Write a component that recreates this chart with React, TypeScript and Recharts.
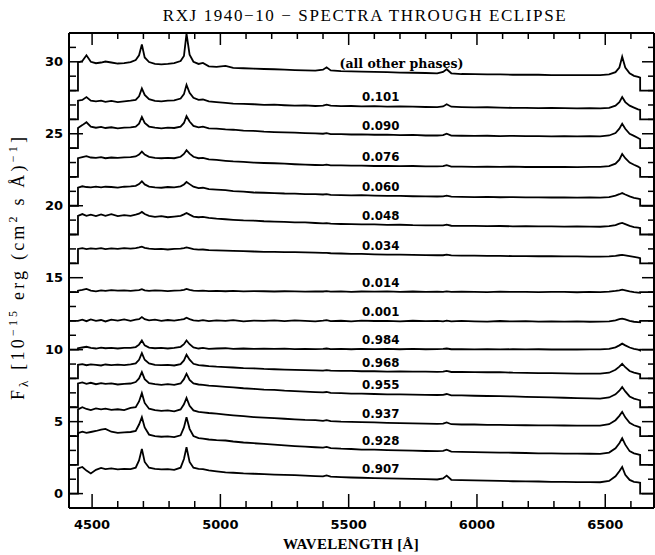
import React from 'react';
import { LineChart, Line, XAxis, YAxis, ReferenceDot } from 'recharts';

// Wavelength grid (Angstrom); the duplicated 4445 / 6636 entries are the ends of the observed range
const wavelengths = [4410, 4445, 4445, 4462, 4478, 4495, 4515, 4535, 4552, 4575, 4600, 4625, 4650, 4670, 4683, 4694, 4705, 4722, 4745, 4770, 4795, 4820, 4845, 4858, 4868, 4880, 4895, 4915, 4932, 4955, 4985, 5020, 5050, 5090, 5130, 5170, 5210, 5250, 5290, 5330, 5370, 5400, 5414, 5430, 5470, 5510, 5550, 5600, 5650, 5700, 5750, 5800, 5845, 5868, 5882, 5900, 5940, 5990, 6040, 6090, 6140, 6190, 6240, 6290, 6340, 6390, 6440, 6480, 6515, 6540, 6555, 6566, 6578, 6595, 6612, 6628, 6636, 6636, 6690];

const phases = ['(all other phases)', '0.101', '0.090', '0.076', '0.060', '0.048', '0.034', '0.014', '0.001', '0.984', '0.968', '0.955', '0.937', '0.928', '0.907'];
const offsets = [28, 26, 24, 22, 20, 18, 16, 14, 12, 10, 8, 6, 4, 2, 0];

const fluxAll = [0, 0, 1.95, 2.05, 2.45, 2.0, 1.9, 1.95, 2.02, 1.95, 1.88, 1.9, 1.98, 2.12, 2.45, 3.2, 2.3, 1.98, 1.85, 1.82, 1.85, 1.9, 2.05, 2.4, 3.95, 2.5, 2.0, 1.85, 1.92, 1.68, 1.65, 1.72, 1.58, 1.55, 1.52, 1.5, 1.48, 1.45, 1.42, 1.4, 1.38, 1.45, 1.62, 1.4, 1.35, 1.33, 1.32, 1.3, 1.28, 1.25, 1.24, 1.22, 1.2, 1.3, 1.48, 1.2, 1.15, 1.14, 1.12, 1.12, 1.1, 1.1, 1.1, 1.08, 1.08, 1.08, 1.08, 1.08, 1.12, 1.28, 1.6, 2.35, 1.6, 1.2, 1.02, 0.95, 0.9, 0, 0];
const flux101 = [0, 0, 1.3, 1.35, 1.55, 1.3, 1.25, 1.3, 1.22, 1.28, 1.2, 1.25, 1.3, 1.35, 1.6, 2.15, 1.7, 1.4, 1.28, 1.25, 1.3, 1.32, 1.45, 1.75, 2.4, 1.85, 1.5, 1.35, 1.38, 1.25, 1.2, 1.15, 1.1, 1.08, 1.05, 1.0, 1.02, 0.98, 0.95, 0.97, 0.93, 0.95, 1.02, 0.95, 0.92, 0.93, 0.9, 0.92, 0.88, 0.9, 0.88, 0.86, 0.85, 0.9, 1.05, 0.88, 0.85, 0.83, 0.84, 0.82, 0.8, 0.8, 0.78, 0.8, 0.78, 0.76, 0.78, 0.76, 0.8, 0.95, 1.2, 1.55, 1.2, 0.95, 0.82, 0.7, 0.65, 0, 0];
const flux090 = [0, 0, 1.4, 1.6, 1.8, 1.5, 1.42, 1.48, 1.4, 1.45, 1.38, 1.42, 1.45, 1.5, 1.7, 2.17, 1.75, 1.5, 1.42, 1.38, 1.42, 1.4, 1.5, 1.75, 2.22, 1.85, 1.55, 1.45, 1.5, 1.38, 1.35, 1.3, 1.28, 1.22, 1.2, 1.15, 1.12, 1.1, 1.08, 1.05, 1.02, 1.0, 1.04, 0.98, 0.97, 0.95, 0.96, 0.93, 0.94, 0.9, 0.92, 0.88, 0.88, 0.9, 1.0, 0.87, 0.86, 0.85, 0.86, 0.84, 0.85, 0.83, 0.84, 0.82, 0.84, 0.82, 0.83, 0.82, 0.88, 1.05, 1.35, 1.7, 1.35, 1.0, 0.85, 0.7, 0.62, 0, 0];
const flux076 = [0, 0, 1.3, 1.38, 1.45, 1.35, 1.32, 1.38, 1.3, 1.35, 1.32, 1.36, 1.38, 1.42, 1.55, 1.76, 1.55, 1.4, 1.32, 1.3, 1.33, 1.3, 1.4, 1.6, 1.86, 1.62, 1.4, 1.3, 1.32, 1.22, 1.18, 1.12, 1.08, 1.05, 1.0, 0.97, 0.95, 0.92, 0.88, 0.85, 0.83, 0.82, 0.85, 0.8, 0.8, 0.78, 0.79, 0.76, 0.77, 0.75, 0.76, 0.73, 0.74, 0.75, 0.82, 0.72, 0.72, 0.7, 0.72, 0.7, 0.71, 0.69, 0.7, 0.69, 0.7, 0.68, 0.7, 0.7, 0.75, 0.92, 1.2, 1.6, 1.3, 1.0, 0.85, 0.72, 0.62, 0, 0];
const flux060 = [0, 0, 1.25, 1.35, 1.3, 1.28, 1.33, 1.27, 1.32, 1.3, 1.26, 1.32, 1.34, 1.38, 1.5, 1.7, 1.48, 1.33, 1.28, 1.25, 1.3, 1.27, 1.35, 1.48, 1.65, 1.5, 1.32, 1.22, 1.25, 1.15, 1.12, 1.08, 1.02, 0.98, 0.92, 0.9, 0.88, 0.85, 0.84, 0.8, 0.8, 0.78, 0.8, 0.76, 0.74, 0.72, 0.73, 0.7, 0.68, 0.68, 0.66, 0.65, 0.64, 0.65, 0.7, 0.63, 0.62, 0.6, 0.61, 0.59, 0.6, 0.58, 0.58, 0.57, 0.58, 0.56, 0.57, 0.56, 0.6, 0.7, 0.8, 0.88, 0.78, 0.65, 0.55, 0.5, 0.46, 0, 0];
const flux048 = [0, 0, 1.3, 1.42, 1.3, 1.38, 1.28, 1.4, 1.3, 1.42, 1.28, 1.35, 1.3, 1.38, 1.45, 1.57, 1.42, 1.3, 1.22, 1.28, 1.2, 1.25, 1.3, 1.4, 1.5, 1.38, 1.25, 1.2, 1.22, 1.15, 1.1, 1.06, 1.02, 0.98, 0.96, 0.92, 0.9, 0.88, 0.85, 0.84, 0.8, 0.78, 0.79, 0.75, 0.73, 0.72, 0.7, 0.7, 0.67, 0.68, 0.65, 0.64, 0.63, 0.64, 0.68, 0.61, 0.6, 0.6, 0.58, 0.59, 0.57, 0.58, 0.56, 0.57, 0.55, 0.56, 0.55, 0.54, 0.58, 0.66, 0.75, 0.8, 0.72, 0.6, 0.52, 0.48, 0.45, 0, 0];
const flux034 = [0, 0, 1.0, 1.05, 0.98, 1.04, 1.0, 1.06, 0.98, 1.03, 1.0, 1.05, 1.02, 1.06, 1.1, 1.15, 1.08, 1.02, 0.98, 1.0, 0.96, 1.0, 1.02, 1.06, 1.1, 1.05, 0.98, 0.95, 0.96, 0.92, 0.9, 0.88, 0.86, 0.84, 0.82, 0.8, 0.8, 0.78, 0.77, 0.76, 0.74, 0.72, 0.73, 0.7, 0.68, 0.66, 0.65, 0.62, 0.6, 0.6, 0.58, 0.57, 0.56, 0.56, 0.6, 0.55, 0.54, 0.53, 0.52, 0.52, 0.5, 0.5, 0.49, 0.5, 0.48, 0.48, 0.47, 0.47, 0.48, 0.52, 0.56, 0.58, 0.55, 0.5, 0.45, 0.4, 0.36, 0, 0];
const flux014 = [0, 0, 0.1, 0.15, 0.22, 0.1, 0.05, 0.12, 0.08, 0.14, 0.1, 0.12, 0.08, 0.12, 0.14, 0.2, 0.12, 0.08, 0.12, 0.1, 0.07, 0.1, 0.12, 0.16, 0.22, 0.15, 0.1, 0.08, 0.1, 0.07, 0.09, 0.06, 0.08, 0.05, 0.07, 0.06, 0.04, 0.06, 0.05, 0.03, 0.05, 0.04, 0.06, 0.03, 0.05, 0.02, 0.04, 0.03, 0.05, 0.02, 0.04, 0.02, 0.03, 0.02, 0.05, 0.01, 0.03, 0.02, 0.0, 0.03, 0.01, 0.02, 0.0, 0.02, 0.01, -0.01, 0.01, 0.0, 0.03, 0.08, 0.12, 0.17, 0.12, 0.05, 0.0, -0.03, -0.05, 0, 0];
const flux001 = [0, 0, 0.0, 0.08, -0.02, 0.1, 0.0, 0.06, -0.04, 0.08, 0.02, 0.1, 0.0, 0.08, 0.12, 0.26, 0.12, 0.04, 0.08, 0.0, 0.06, 0.02, 0.08, 0.12, 0.22, 0.12, 0.04, 0.0, 0.05, -0.02, 0.04, 0.0, 0.05, -0.03, 0.02, 0.0, 0.04, -0.02, 0.03, 0.0, -0.03, 0.02, 0.05, -0.02, 0.01, -0.03, 0.02, -0.01, 0.0, -0.04, 0.01, -0.02, 0.0, -0.03, 0.02, -0.04, 0.0, -0.03, -0.05, -0.01, -0.04, -0.02, -0.05, -0.03, -0.05, -0.04, -0.06, -0.05, -0.03, 0.04, 0.12, 0.16, 0.1, 0.0, -0.06, -0.08, -0.1, 0, 0];
const flux984 = [0, 0, 0.1, 0.15, 0.2, 0.12, 0.08, 0.14, 0.1, 0.12, 0.08, 0.13, 0.12, 0.18, 0.35, 0.64, 0.3, 0.14, 0.1, 0.12, 0.08, 0.12, 0.2, 0.38, 0.64, 0.38, 0.15, 0.08, 0.12, 0.06, 0.08, 0.1, 0.06, 0.08, 0.05, 0.07, 0.05, 0.07, 0.04, 0.06, 0.04, 0.05, 0.08, 0.04, 0.05, 0.03, 0.05, 0.04, 0.06, 0.03, 0.05, 0.03, 0.04, 0.05, 0.08, 0.03, 0.04, 0.02, 0.04, 0.02, 0.03, 0.02, 0.03, 0.01, 0.02, 0.01, 0.02, 0.02, 0.06, 0.16, 0.3, 0.42, 0.3, 0.15, 0.06, 0.0, -0.05, 0, 0];
const flux968 = [0, 0, 0.95, 1.0, 0.92, 0.98, 0.95, 0.9, 0.97, 0.93, 0.96, 0.92, 0.98, 1.05, 1.3, 1.76, 1.3, 1.05, 0.95, 0.92, 0.95, 0.9, 1.0, 1.25, 1.65, 1.3, 1.02, 0.92, 0.9, 0.86, 0.82, 0.79, 0.76, 0.72, 0.7, 0.66, 0.64, 0.62, 0.6, 0.58, 0.56, 0.55, 0.58, 0.54, 0.52, 0.52, 0.5, 0.5, 0.48, 0.49, 0.47, 0.47, 0.46, 0.47, 0.52, 0.45, 0.45, 0.44, 0.43, 0.44, 0.4, 0.39, 0.37, 0.37, 0.35, 0.34, 0.33, 0.33, 0.4, 0.6, 0.82, 1.02, 0.78, 0.52, 0.4, 0.34, 0.3, 0, 0];
const flux955 = [0, 0, 1.65, 1.72, 1.62, 1.7, 1.6, 1.68, 1.62, 1.66, 1.58, 1.62, 1.65, 1.75, 2.0, 2.44, 1.95, 1.68, 1.6, 1.56, 1.6, 1.55, 1.65, 1.95, 2.33, 1.9, 1.65, 1.58, 1.56, 1.5, 1.46, 1.42, 1.38, 1.32, 1.28, 1.22, 1.2, 1.15, 1.12, 1.08, 1.05, 1.03, 1.06, 1.0, 0.98, 0.95, 0.94, 0.92, 0.9, 0.9, 0.88, 0.86, 0.85, 0.86, 0.92, 0.83, 0.82, 0.8, 0.78, 0.77, 0.75, 0.72, 0.7, 0.68, 0.66, 0.64, 0.62, 0.6, 0.68, 0.9, 1.15, 1.4, 1.1, 0.75, 0.6, 0.52, 0.48, 0, 0];
const flux937 = [0, 0, 1.85, 2.0, 1.88, 1.8, 1.92, 1.85, 1.9, 1.82, 1.86, 1.8, 1.95, 2.0, 2.4, 2.98, 2.3, 1.9, 1.8, 1.75, 1.78, 1.72, 1.85, 2.2, 2.65, 2.1, 1.78, 1.68, 1.65, 1.6, 1.55, 1.49, 1.44, 1.38, 1.32, 1.28, 1.24, 1.2, 1.16, 1.12, 1.1, 1.06, 1.1, 1.04, 1.0, 0.98, 0.96, 0.95, 0.92, 0.9, 0.88, 0.86, 0.84, 0.86, 0.95, 0.82, 0.8, 0.8, 0.78, 0.77, 0.76, 0.75, 0.74, 0.74, 0.73, 0.72, 0.72, 0.72, 0.82, 1.1, 1.4, 1.68, 1.3, 0.92, 0.75, 0.65, 0.6, 0, 0];
const flux928 = [0, 0, 2.2, 2.3, 2.22, 2.28, 2.35, 2.45, 2.5, 2.3, 2.22, 2.25, 2.28, 2.35, 2.8, 3.31, 2.6, 2.1, 2.0, 1.95, 1.98, 1.92, 2.05, 2.6, 3.31, 2.5, 2.0, 1.85, 1.82, 1.76, 1.72, 1.69, 1.62, 1.55, 1.5, 1.45, 1.4, 1.35, 1.3, 1.26, 1.22, 1.2, 1.24, 1.16, 1.12, 1.1, 1.06, 1.05, 1.02, 1.0, 0.98, 0.96, 0.95, 0.97, 1.05, 0.92, 0.9, 0.88, 0.87, 0.85, 0.84, 0.82, 0.8, 0.8, 0.78, 0.78, 0.77, 0.76, 0.85, 1.15, 1.5, 1.85, 1.4, 0.95, 0.8, 0.72, 0.68, 0, 0];
const flux907 = [0, 0, 1.75, 1.85, 1.6, 1.4, 1.65, 1.78, 1.7, 1.75, 1.68, 1.72, 1.7, 1.8, 2.3, 3.11, 2.2, 1.8, 1.72, 1.68, 1.7, 1.65, 1.8, 2.4, 3.22, 2.2, 1.8, 1.72, 1.7, 1.62, 1.55, 1.48, 1.45, 1.4, 1.38, 1.35, 1.32, 1.3, 1.28, 1.25, 1.22, 1.2, 1.26, 1.18, 1.15, 1.12, 1.1, 1.08, 1.06, 1.04, 1.02, 1.0, 0.98, 1.05, 1.25, 0.96, 0.94, 0.92, 0.9, 0.88, 0.86, 0.85, 0.84, 0.82, 0.82, 0.8, 0.8, 0.79, 0.88, 1.2, 1.55, 1.85, 1.3, 0.95, 0.82, 0.78, 0.75, 0, 0];

const fluxes = [fluxAll, flux101, flux090, flux076, flux060, flux048, flux034, flux014, flux001, flux984, flux968, flux955, flux937, flux928, flux907];

const xTicks = [4500, 4600, 4700, 4800, 4900, 5000, 5100, 5200, 5300, 5400, 5500, 5600, 5700, 5800, 5900, 6000, 6100, 6200, 6300, 6400, 6500, 6600];
const yTicks = [0, 1, 2, 3, 4, 5, 6, 7, 8, 9, 10, 11, 12, 13, 14, 15, 16, 17, 18, 19, 20, 21, 22, 23, 24, 25, 26, 27, 28, 29, 30, 31];

const X_DOMAIN: [number, number] = [4410, 6690];
const Y_DOMAIN: [number, number] = [-1, 32];
const LABEL_REF = 5600;
const LABEL_GAP = 0.62;

const NUM_FONT = "'DejaVu Sans', sans-serif";
const SERIF = "'Liberation Serif', 'Times New Roman', serif";

function BottomTick(p: any) {
  const { x, y, payload } = p;
  const v = payload.value;
  const major = v % 500 === 0;
  return (
    <g>
      <line x1={x} x2={x} y1={y} y2={y - (major ? 14 : 7)} stroke="#000" strokeWidth={1.5} />
      {major && (
        <text x={x} y={y + 20.5} textAnchor="middle" fontFamily={NUM_FONT} fontWeight={700} fontSize={13} fill="#000">
          {v}
        </text>
      )}
    </g>
  );
}

function TopTick(p: any) {
  const { x, y, payload } = p;
  const major = payload.value % 500 === 0;
  return <line x1={x} x2={x} y1={y} y2={y + (major ? 12 : 6)} stroke="#000" strokeWidth={1.5} />;
}

function LeftTick(p: any) {
  const { x, y, payload } = p;
  const v = payload.value;
  const major = v % 5 === 0;
  return (
    <g>
      <line x1={x} x2={x + (major ? 14 : 7)} y1={y} y2={y} stroke="#000" strokeWidth={1.5} />
      {major && (
        <text x={x - 6} y={y + 4.7} textAnchor="end" fontFamily={NUM_FONT} fontWeight={700} fontSize={13} fill="#000">
          {v}
        </text>
      )}
    </g>
  );
}

function RightTick(p: any) {
  const { x, y, payload } = p;
  const major = payload.value % 5 === 0;
  return <line x1={x} x2={x - (major ? 12 : 6)} y1={y} y2={y} stroke="#000" strokeWidth={1.5} />;
}

export default function App() {
  const series = fluxes.map((f, k) => wavelengths.map((w, i) => ({ w, v: offsets[k] + (f[i] ?? 0) })));
  const refIdx = wavelengths.indexOf(LABEL_REF);
  const labelX = (k: number) => (k === 0 ? 5706 : 5625);
  const labelRefIdx = (k: number) => (k === 0 ? wavelengths.indexOf(5700) : refIdx);

  return (
    <div style={{ position: 'absolute', left: 0, top: 0, width: 655, height: 555, background: '#fff' }}>
      <LineChart width={655} height={555} margin={{ top: 0, right: 0, bottom: 0, left: 0 }}>
        <XAxis
          xAxisId={0}
          type="number"
          dataKey="w"
          domain={X_DOMAIN}
          allowDataOverflow
          ticks={xTicks}
          interval={0}
          tickLine={false}
          tickSize={0}
          tickMargin={0}
          height={47}
          axisLine={{ stroke: '#000', strokeWidth: 2 }}
          tick={(p: any) => <BottomTick {...p} />}
        />
        <XAxis
          xAxisId="top"
          orientation="top"
          type="number"
          dataKey="w"
          domain={X_DOMAIN}
          allowDataOverflow
          ticks={xTicks}
          interval={0}
          tickLine={false}
          tickSize={0}
          tickMargin={0}
          height={33}
          axisLine={{ stroke: '#000', strokeWidth: 2 }}
          tick={(p: any) => <TopTick {...p} />}
        />
        <YAxis
          yAxisId={0}
          type="number"
          domain={Y_DOMAIN}
          allowDataOverflow
          ticks={yTicks}
          interval={0}
          tickLine={false}
          tickSize={0}
          tickMargin={0}
          width={69}
          axisLine={{ stroke: '#000', strokeWidth: 2 }}
          tick={(p: any) => <LeftTick {...p} />}
        />
        <YAxis
          yAxisId="right"
          orientation="right"
          type="number"
          domain={Y_DOMAIN}
          allowDataOverflow
          ticks={yTicks}
          interval={0}
          tickLine={false}
          tickSize={0}
          tickMargin={0}
          width={1}
          axisLine={{ stroke: '#000', strokeWidth: 2 }}
          tick={(p: any) => <RightTick {...p} />}
        />
        {series.map((d, k) => (
          <Line
            key={phases[k]}
            data={d}
            dataKey="v"
            xAxisId={0}
            yAxisId={0}
            type="linear"
            stroke="#000"
            strokeWidth={1.8}
            dot={false}
            activeDot={false}
            isAnimationActive={false}
          />
        ))}
        {phases.map((ph, k) => (
          <ReferenceDot
            key={'lab' + k}
            xAxisId={0}
            yAxisId={0}
            x={labelX(k)}
            y={offsets[k] + fluxes[k][labelRefIdx(k)] + LABEL_GAP}
            r={1}
            fill="none"
            stroke="none"
            label={{
              value: ph,
              position: 'center',
              fill: '#000',
              fontSize: k === 0 ? 12.5 : 11.8,
              fontWeight: 700,
              fontFamily: k === 0 ? "'DejaVu Serif', serif" : NUM_FONT,
            }}
          />
        ))}
      </LineChart>
      <svg width={655} height={555} style={{ position: 'absolute', left: 0, top: 0, pointerEvents: 'none' }}>
        <text x={365} y={21} textAnchor="middle" fontFamily={SERIF} fontSize={17} letterSpacing={1.6} fill="#000">
          RXJ 1940−10 − SPECTRA THROUGH ECLIPSE
        </text>
        <text x={351} y={549} textAnchor="middle" fontFamily={SERIF} fontWeight={700} fontSize={15} letterSpacing={0.3} fill="#000">
          WAVELENGTH [Å]
        </text>
        <text transform="translate(24,267) rotate(-90)" textAnchor="middle" fontFamily={SERIF} fontSize={18} letterSpacing={3.2} fill="#000">
          F<tspan dy={4} fontSize={13}>λ</tspan>
          <tspan dy={-4}> [10</tspan>
          <tspan dy={-7} fontSize={12}>−15</tspan>
          <tspan dy={7}> erg (cm</tspan>
          <tspan dy={-7} fontSize={12}>2</tspan>
          <tspan dy={7}> s Å)</tspan>
          <tspan dy={-7} fontSize={12}>−1</tspan>
          <tspan dy={7}>]</tspan>
        </text>
      </svg>
    </div>
  );
}
